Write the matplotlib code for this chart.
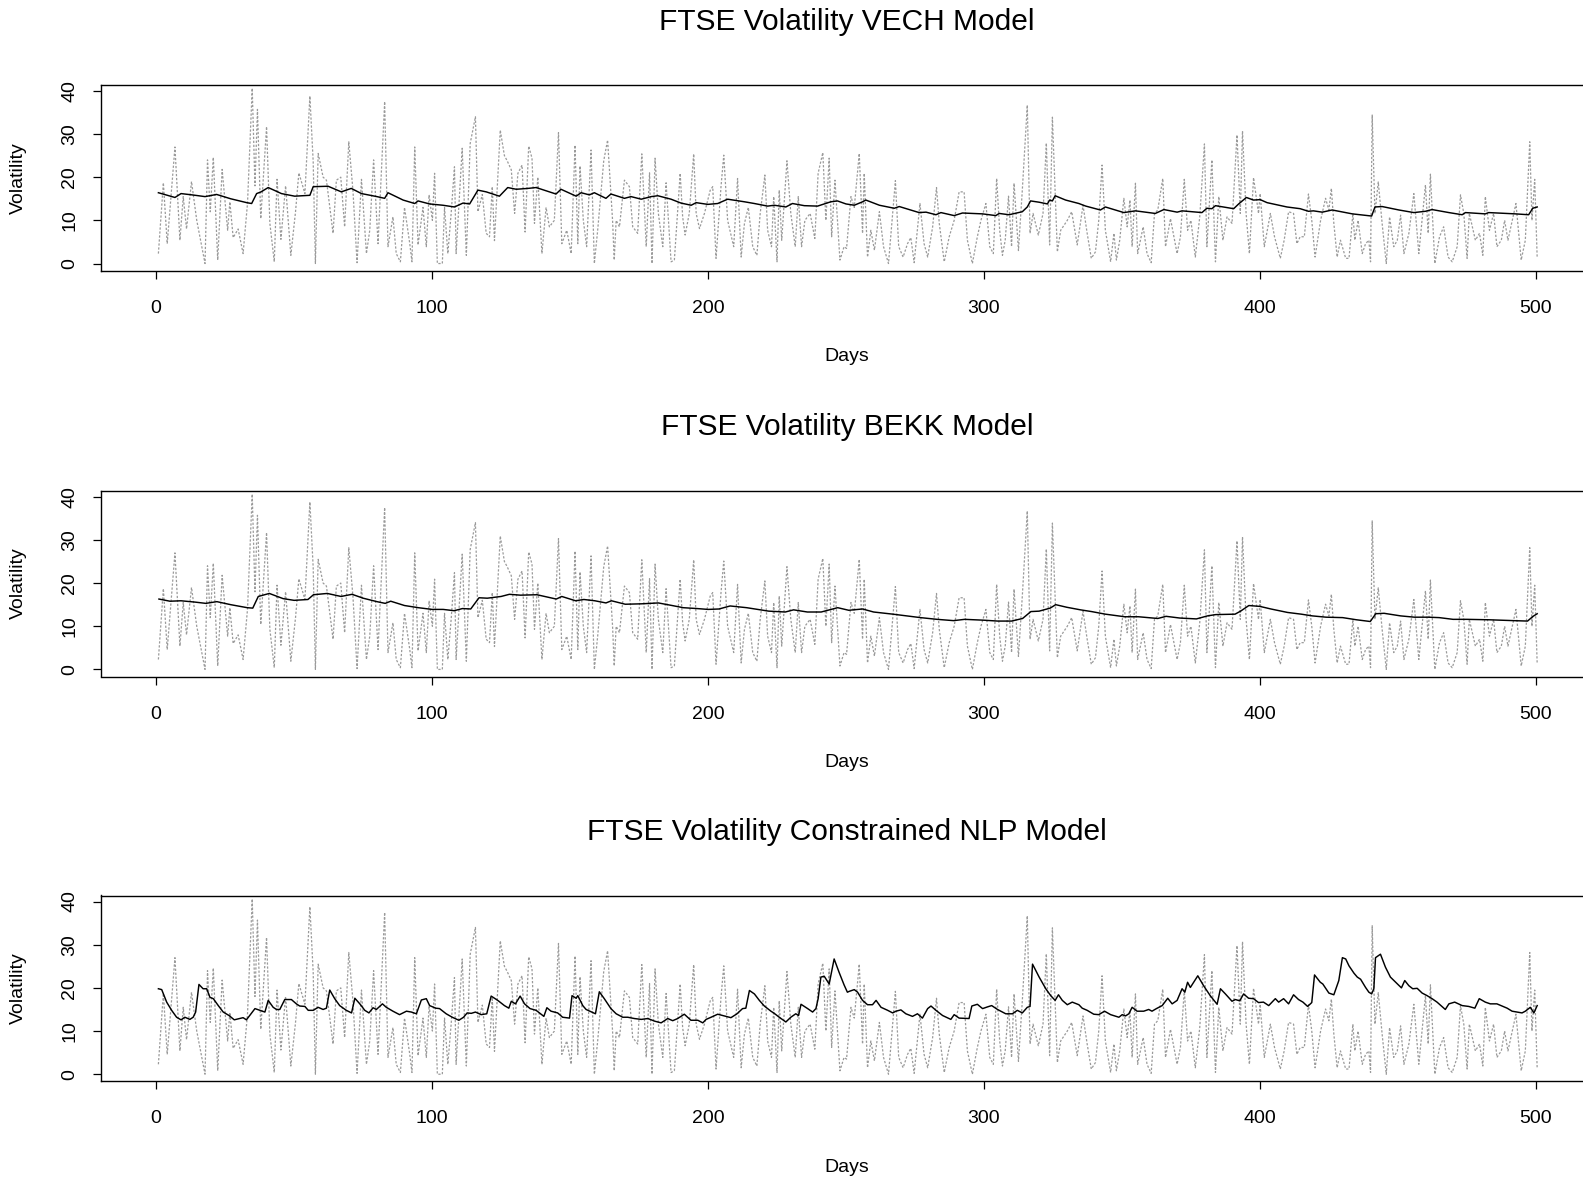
import matplotlib
matplotlib.use("Agg")
import matplotlib.pyplot as plt

plt.rcParams['font.family'] = ['Liberation Sans', 'DejaVu Sans']

# ---------------- data ----------------
titles = ["FTSE Volatility VECH Model", "FTSE Volatility BEKK Model",
          "FTSE Volatility Constrained NLP Model"]
x_label = "Days"
y_label = "Volatility"
x_ticks = [0, 100, 200, 300, 400, 500]
y_ticks = [0, 10, 20, 30, 40]

# observed (realised) volatility - dotted grey series, same in all panels
obs_days = [0.8, 2.6, 4.0, 6.8, 8.6, 9.8, 11.0, 12.8, 14.7, 17.7, 18.6, 19.6, 20.7, 22.3, 23.9,
            25.9, 26.7, 27.9, 29.7, 31.5, 33.1, 34.8, 35.8, 36.7, 37.9, 40.0, 41.2, 42.8, 43.8,
            45.2, 46.9, 48.8, 50.5, 51.7, 53.9, 55.7, 56.9, 57.7, 58.7, 60.5, 61.7, 64.1, 65.3,
            66.9, 68.3, 69.8, 71.3, 72.8, 74.4, 76.2, 77.4, 78.8, 80.4, 82.8, 84.0, 85.8, 87.0,
            88.5, 90.0, 91.9, 92.7, 93.7, 94.9, 96.7, 97.9, 98.9, 100.1, 100.9, 101.9, 103.7,
            104.5, 105.7, 106.9, 108.1, 108.7, 110.9, 112.4, 113.8, 115.7, 116.6, 118.2, 119.6,
            120.8, 121.8, 122.6, 124.7, 126.2, 127.2, 128.7, 129.9, 131.1, 132.6, 133.7, 135.0,
            136.2, 137.1, 138.3, 139.8, 141.3, 142.5, 144.3, 145.8, 147.0, 148.8, 150.4, 151.8,
            152.8, 153.6, 154.8, 156.0, 157.6, 158.8, 160.0, 162.2, 163.6, 165.4, 166.0, 166.7,
            167.9, 169.7, 171.5, 172.7, 174.5, 176.0, 177.6, 178.8, 179.7, 180.8, 182.0, 183.6,
            184.8, 186.6, 187.8, 189.9, 190.8, 191.7, 193.2, 194.8, 195.7, 196.9, 198.7, 200.8,
            201.7, 202.9, 204.7, 205.7, 207.1, 209.3, 210.7, 212.0, 213.2, 214.6, 216.2, 217.7,
            218.9, 220.6, 221.6, 223.0, 223.8, 225.0, 225.8, 226.7, 228.6, 230.0, 231.6, 232.7,
            233.9, 235.1, 237.0, 238.7, 239.9, 241.6, 242.7, 243.9, 244.8, 246.0, 247.8, 249.3,
            250.2, 251.8, 253.0, 254.8, 256.0, 256.6, 257.8, 259.0, 260.3, 262.1, 263.6, 265.4,
            266.9, 267.9, 269.1, 270.7, 272.3, 273.5, 274.7, 276.8, 278.3, 279.6, 281.4, 282.8,
            283.8, 285.6, 287.4, 289.2, 291.0, 292.8, 294.0, 295.8, 297.6, 298.9, 300.7, 302.1,
            303.4, 304.6, 305.7, 306.7, 307.7, 308.9, 310.0, 310.9, 312.5, 313.9, 315.7, 316.7,
            317.8, 319.7, 321.4, 322.6, 323.8, 324.8, 326.6, 327.8, 330.2, 331.8, 333.8, 335.9,
            337.4, 338.9, 340.4, 341.6, 342.8, 344.0, 345.9, 347.1, 348.0, 349.2, 350.7, 351.9,
            352.9, 353.7, 354.9, 355.7, 357.7, 359.1, 360.6, 361.8, 363.0, 364.8, 365.8, 367.6,
            370.0, 371.2, 372.6, 373.8, 375.0, 376.6, 378.2, 379.9, 380.8, 382.6, 383.9, 385.1,
            386.6, 388.1, 389.9, 391.7, 392.9, 393.7, 395.0, 396.2, 397.7, 399.5, 400.1, 401.6,
            403.8, 405.3, 407.4, 408.8, 410.4, 412.2, 413.4, 414.6, 416.1, 417.6, 418.8, 420.0,
            422.0, 423.8, 425.0, 425.9, 426.8, 428.0, 429.2, 431.1, 432.3, 433.7, 434.4, 435.6,
            437.1, 438.3, 439.5, 440.1, 440.7, 441.7, 442.9, 444.3, 445.8, 447.0, 448.5, 449.8,
            451.0, 452.2, 454.0, 455.8, 457.6, 460.0, 461.0, 461.8, 463.4, 465.1, 466.6, 468.2,
            469.7, 471.5, 472.7, 473.9, 475.1, 475.9, 478.1, 479.6, 480.8, 481.7, 483.2, 484.7,
            485.9, 487.5, 488.7, 489.9, 492.8, 494.7, 496.2, 497.8, 498.6, 499.6, 500.5]
obs_vol = [2.3, 18.7, 4.6, 27.0, 5.4, 15.5, 8.0, 19.0, 10.0, 0.0, 24.0, 12.0, 24.6, 0.8, 21.8,
           7.7, 14.3, 6.0, 8.0, 2.3, 14.0, 40.6, 18.0, 35.7, 10.4, 31.7, 9.3, 0.4, 19.5,
           5.6, 18.0, 1.9, 12.0, 21.0, 16.2, 38.8, 23.6, 0.0, 25.5, 20.0, 19.3, 7.0, 19.3,
           20.0, 8.5, 28.2, 17.0, 0.2, 19.5, 2.3, 7.7, 24.0, 4.6, 37.5, 3.9, 10.8, 2.3,
           0.4, 13.0, 4.6, 0.4, 27.0, 4.3, 13.0, 3.9, 15.9, 10.0, 20.9, 0.0, 0.0,
           13.0, 2.3, 11.6, 22.4, 2.3, 26.7, 1.9, 27.8, 34.0, 12.0, 16.0, 7.0,
           6.2, 17.8, 5.3, 30.9, 25.0, 23.8, 21.7, 11.6, 20.9, 22.8, 7.3, 27.2,
           24.4, 9.3, 20.0, 2.3, 13.0, 8.5, 10.0, 30.3, 4.6, 7.7, 2.3, 27.4,
           4.6, 22.6, 10.0, 3.9, 26.3, 0.0, 7.7, 23.8, 28.6, 10.0, 0.8, 10.0,
           8.5, 19.3, 17.8, 8.5, 7.0, 25.4, 3.9, 21.0, 0.0, 24.4, 11.6, 3.9,
           18.7, 0.4, 0.8, 20.9, 10.8, 6.6, 11.6, 25.4, 11.6, 8.1, 11.6, 17.0,
           17.8, 1.2, 17.8, 25.1, 10.0, 3.9, 19.7, 1.5, 9.3, 13.0, 3.9, 1.9,
           11.6, 20.5, 7.7, 3.9, 15.5, 0.4, 17.0, 5.4, 23.8, 11.6, 3.9, 15.5,
           3.9, 10.0, 11.6, 5.8, 20.9, 25.7, 10.0, 24.4, 6.2, 19.3, 0.8, 3.9,
           3.5, 15.5, 13.0, 25.5, 7.0, 20.9, 1.5, 7.7, 3.1, 12.0, 3.9, 0.0,
           11.6, 19.2, 3.9, 1.5, 4.6, 6.0, 0.2, 13.9, 4.6, 1.5, 8.5, 17.6,
           9.3, 0.4, 6.2, 10.0, 16.6, 16.6, 5.4, 0.0, 6.2, 10.0, 13.9, 3.9,
           2.3, 19.7, 7.7, 1.9, 5.4, 15.6, 3.9, 18.6, 3.0, 17.0, 36.7, 7.0,
           11.6, 6.6, 11.6, 27.9, 4.3, 33.9, 2.7, 7.7, 10.0, 12.0, 4.3, 13.5,
           7.0, 1.2, 2.7, 10.0, 22.8, 7.7, 0.4, 7.0, 0.8, 5.4, 15.1, 8.5,
           14.7, 3.9, 18.6, 2.3, 8.5, 2.3, 0.2, 11.6, 12.4, 19.7, 3.9, 10.4,
           2.3, 6.2, 19.5, 7.7, 10.0, 1.5, 10.8, 27.7, 3.9, 24.0, 0.4, 15.5,
           5.4, 10.8, 9.3, 29.8, 11.6, 30.7, 11.6, 2.3, 19.9, 11.6, 16.2, 3.9,
           11.6, 6.2, 1.2, 5.4, 12.0, 11.6, 4.6, 6.2, 6.2, 16.1, 10.0, 1.5,
           10.0, 15.1, 12.4, 17.4, 9.3, 1.5, 5.4, 1.2, 1.2, 11.6, 5.4, 10.0,
           2.3, 4.6, 5.4, 0.4, 34.4, 11.6, 18.9, 9.3, 0.0, 10.8, 3.9, 5.4,
           11.2, 2.3, 7.0, 16.2, 2.3, 18.2, 7.0, 20.7, 0.0, 6.2, 8.5, 1.5,
           0.4, 3.9, 15.9, 11.6, 1.2, 11.6, 5.4, 7.0, 1.9, 15.5, 7.7, 11.6,
           3.9, 5.4, 10.0, 5.4, 13.9, 0.8, 5.4, 28.2, 10.0, 19.5, 1.2]

# VECH model forecast
vech_days = [0.8, 3, 6.8, 9, 13, 17.7, 21.9, 27, 32.8, 34.6, 36.4, 38, 40.6, 45.4, 50.2, 55.7,
             56.9, 62.3, 67.1, 70.7, 74.4, 80, 82.8, 84, 89.5, 93.7, 94.9, 99.1, 103.9, 108.1,
             111.2, 113.6, 116.6, 119.6, 124.4, 127.4, 130.5, 134.7, 137.7, 144.9, 146.7, 152.2,
             154, 157, 158.8, 163, 164.8, 169.7, 172.1, 175.8, 179.4, 181.8, 186.6, 190.2, 193.9,
             195.7, 199.9, 203.5, 207.1, 213.2, 216.8, 221.6, 224, 228.2, 230.6, 234.9, 239.7,
             244.5, 246.9, 250, 253, 256, 257.2, 262.1, 267.5, 269.3, 276.5, 279, 282.6, 284.4,
             289.2, 292.2, 299.5, 304.3, 305.5, 309.1, 313.9, 315.7, 316.9, 320, 323, 323.8,
             324.8, 325.8, 329.6, 334.4, 336.9, 342.2, 344, 350.7, 354.9, 362.1, 365.2, 370,
             371.8, 379, 380.8, 382.6, 383.9, 390.5, 392.3, 395.1, 397.7, 400.1, 402.6, 409.8,
             414.6, 417.6, 419.4, 422.6, 426.2, 433.5, 440.5, 441.7, 444.3, 450.4, 455.8, 460,
             462.4, 468.5, 473.3, 474.5, 481.7, 482.9, 492.6, 497.4, 498.9, 500.5]
vech_vol = [16.4, 16.0, 15.3, 16.2, 15.9, 15.5, 16.0, 15.0, 14.1, 13.9, 16.2, 16.6, 17.6, 16.2,
            15.6, 15.8, 17.8, 17.9, 16.6, 17.4, 16.2, 15.5, 15.1, 16.4, 14.7, 13.9, 14.5, 13.8,
            13.5, 13.1, 14.0, 13.8, 17.0, 16.6, 15.6, 17.6, 17.2, 17.4, 17.6, 16.1, 17.2, 15.6,
            16.4, 15.9, 16.4, 15.1, 16.1, 15.1, 15.5, 14.9, 15.5, 15.7, 14.9, 14.0, 13.5,
            14.1, 13.7, 13.9, 14.9, 14.3, 13.9, 13.3, 13.5, 13.1, 13.9, 13.4, 13.3,
            14.3, 14.5, 13.8, 13.5, 14.3, 14.7, 13.5, 12.8, 13.2, 11.8, 11.9, 11.3, 11.8,
            11.1, 11.7, 11.5, 11.1, 11.6, 11.3, 12.0, 13.1, 14.5, 14.2, 13.8, 14.7,
            14.5, 15.7, 14.7, 13.9, 13.3, 12.4, 13.1, 11.8, 12.2, 11.6, 12.5, 11.9,
            12.2, 11.8, 12.8, 12.7, 13.4, 12.7, 13.8, 15.3, 14.7, 14.8, 14.1, 13.1,
            12.7, 12.1, 12.2, 11.9, 12.4, 11.5, 11.0, 13.1, 13.2, 12.4, 11.8, 12.1,
            12.5, 11.8, 11.3, 11.8, 11.5, 11.8, 11.5, 11.3, 12.8, 13.1]

# BEKK model forecast
bekk_days = [1, 5, 9, 14, 18, 22, 27, 33, 35, 37, 41, 46, 50, 55, 57, 62, 67, 71, 75, 80, 83,
             85, 90, 95, 100, 104, 108, 111, 114, 117, 120, 125, 128, 132, 138, 145, 147, 152,
             155, 159, 163, 165, 170, 176, 182, 187, 191, 196, 200, 204, 208, 214, 218, 222,
             228, 231, 236, 241, 247, 251, 256, 260, 267, 272, 277, 283, 289, 293, 300, 305,
             310, 314, 317, 320, 324, 326, 330, 335, 339, 344, 351, 356, 363, 366, 371, 377,
             381, 384, 391, 393, 396, 400, 404, 410, 415, 419, 424, 430, 435, 440, 442, 445,
             451, 456, 461, 465, 470, 475, 483, 492, 497, 499, 500.5]
bekk_vol = [16.3, 15.8, 15.9, 15.6, 15.3, 15.7, 15.0, 14.3, 14.2, 16.9, 17.6, 16.4, 16.0, 16.2,
            17.3, 17.6, 16.9, 17.4, 16.5, 15.7, 15.3, 15.8, 14.8, 14.3, 13.9, 13.9, 13.6, 14.1,
            14.0, 16.6, 16.5, 16.9, 17.4, 17.2, 17.3, 16.3, 16.9, 15.9, 16.2, 15.9, 15.4, 15.9,
            15.1, 15.2, 15.4, 14.8, 14.3, 14.1, 13.9, 14.0, 14.7, 14.3, 13.9, 13.5, 13.3, 13.8,
            13.3, 13.3, 14.3, 13.7, 14.0, 13.3, 12.8, 12.4, 12.0, 11.6, 11.3, 11.6, 11.4, 11.2,
            11.2, 11.8, 13.4, 13.5, 14.2, 15.0, 14.4, 13.8, 13.4, 12.8, 12.2, 12.2, 11.8, 12.3,
            11.9, 11.7, 12.4, 12.7, 12.8, 13.5, 14.8, 14.6, 14.0, 13.2, 12.8, 12.4, 12.1, 12.0,
            11.5, 11.1, 12.9, 13.0, 12.4, 12.1, 12.1, 12.0, 11.6, 11.6, 11.5, 11.3, 11.2, 12.3,
            12.9]

# Constrained NLP model forecast
nlp_days = [0.8, 2, 3.8, 5.6, 7.4, 9, 10.4, 12.2, 13.4, 14.3, 15.5, 17, 18.3, 19.5, 20.7, 22.5,
            24.3, 26.4, 28.3, 30.3, 31.5, 32.7, 33.9, 35.8, 37.6, 39.4, 40.6, 42.4, 43.6, 44.8,
            46.6, 49, 50.8, 52, 53.9, 55.1, 56.9, 58.7, 60.5, 61.7, 62.9, 64.7, 66.5, 68.9,
            70.8, 72, 73.8, 75.6, 77.1, 78.6, 79.8, 82, 83.4, 85.8, 88.2, 90.7, 92.5, 94.3,
            96.1, 97.9, 99.1, 101.3, 102.7, 105.1, 107.3, 109.7, 111.4, 112.7, 114.2, 115.7,
            117.8, 119.8, 121.4, 123.8, 126.2, 127.8, 128.7, 130.2, 131.9, 133.5, 135.5, 137.7,
            140.5, 141.6, 143.1, 145.5, 147.3, 149.8, 150.7, 152.2, 152.8, 154.6, 155.8, 159.2,
            160.6, 162.4, 164.8, 166.7, 169.1, 170.9, 173.3, 175.8, 178.2, 180.6, 183, 185.4,
            187.2, 189, 191.4, 193.8, 196.3, 198.1, 199.3, 201.1, 203.5, 205.9, 208.3, 210.5,
            212.5, 213.7, 215, 216.8, 218.6, 220.4, 222.8, 224, 225.8, 228.2, 230, 231.8, 232.8,
            233.7, 236.1, 237.9, 239.1, 239.9, 240.9, 242.1, 243.9, 245.7, 247.5, 249.3, 250.5,
            251.2, 253, 254.2, 256, 257.8, 259.6, 260.9, 262.7, 265.1, 266.9, 268.1, 269.9,
            271.7, 274.1, 275.9, 277.7, 279.6, 280.8, 282.6, 285, 288, 289.2, 291, 294.6, 295.6,
            297.6, 299.5, 301.3, 302.8, 304.9, 307.9, 310.3, 312.1, 313.9, 315.7, 316.7, 317.6,
            320, 322.4, 324.2, 325.8, 327, 328.4, 330.2, 332, 334.4, 335.6, 337.4, 339.8, 341.6,
            343.7, 345.9, 348.9, 350.1, 351.3, 352.5, 353.7, 355.5, 357.9, 359.7, 360.9, 362.5,
            364.6, 366.6, 368.2, 370, 371.8, 372.8, 373.8, 374.8, 377.5, 379.6, 382, 384.5,
            385.7, 387.5, 389.9, 391.1, 392.7, 394.1, 395.9, 397.7, 399.5, 401.3, 403.2, 405.6,
            406.8, 408.6, 410.4, 412.2, 414, 415.6, 417.3, 418.8, 419.8, 421.9, 422.8, 425,
            426.8, 428.6, 429.9, 431.1, 432.3, 434.1, 435.3, 436.5, 438.3, 439.5, 440.5, 441.3,
            441.9, 443.7, 445.5, 447.3, 449.2, 451.3, 452.5, 454, 455.4, 457, 458.8, 460.6,
            462.4, 464.2, 467.2, 468.5, 470.6, 473.3, 475.7, 477.9, 479.5, 481.7, 483.5, 485.9,
            487.8, 489.6, 491.4, 493.2, 495, 496.2, 498, 499.3, 500.5]
nlp_vol = [19.8, 19.6, 16.7, 14.8, 13.2, 12.6, 13.2, 12.7, 13.2, 14.4, 20.8, 19.8, 19.8, 17.8,
           17.5, 15.9, 14.4, 13.6, 12.6, 12.9, 13.1, 12.6, 13.6, 15.2, 14.8, 14.4, 17.1, 15.5,
           15.0, 15.0, 17.3, 17.3, 16.3, 15.8, 15.7, 14.8, 14.8, 15.5, 15.0, 15.3, 19.5, 17.5,
           15.9, 14.8, 14.2, 17.6, 16.3, 14.8, 14.2, 15.4, 15.0, 16.3, 15.5, 14.6, 13.8, 14.6,
           14.4, 14.0, 17.2, 17.5, 15.9, 15.3, 15.2, 14.0, 13.2, 12.5, 13.2, 14.2, 14.1, 14.4,
           13.8, 14.0, 18.1, 17.1, 15.9, 15.3, 16.9, 16.3, 18.1, 16.3, 15.2, 14.8, 13.4, 15.4,
           14.6, 14.2, 13.2, 13.0, 18.2, 17.6, 18.2, 15.9, 15.0, 14.0, 19.1, 17.5, 15.2, 14.0,
           13.2, 13.2, 12.9, 12.7, 12.9, 12.3, 11.9, 12.9, 12.4, 12.9, 13.9, 12.5, 12.5, 11.9,
           12.7, 13.2, 13.9, 13.5, 13.1, 14.0, 15.2, 15.3, 19.4, 18.6, 17.1, 15.8, 14.6, 14.1,
           13.2, 12.1, 13.2, 14.0, 13.6, 16.2, 15.2, 14.4, 15.2, 17.5, 22.5, 22.7, 20.9, 26.7,
           23.6, 20.7, 19.0, 19.2, 19.6, 19.0, 17.1, 16.1, 16.1, 17.1, 15.5, 14.8, 14.2, 14.6,
           14.9, 14.0, 13.4, 14.0, 13.0, 15.2, 15.8, 14.8, 13.6, 12.7, 13.8, 13.0, 12.9, 15.8,
           16.2, 15.2, 15.6, 15.9, 15.0, 14.0, 14.0, 14.8, 14.2, 15.5, 15.7, 25.5, 22.5, 19.8,
           18.2, 17.1, 18.4, 17.1, 16.1, 16.7, 16.1, 15.3, 14.8, 13.9, 13.8, 14.6, 13.8, 13.2,
           13.8, 13.5, 14.0, 15.5, 14.6, 14.6, 15.0, 14.6, 15.2, 15.9, 17.6, 16.3, 17.1, 19.8,
           19.0, 21.3, 20.1, 22.8, 20.5, 18.2, 16.2, 19.8, 18.6, 16.9, 17.3, 17.0, 18.6, 17.6,
           17.5, 16.6, 16.7, 15.9, 17.5, 16.7, 17.5, 16.3, 18.4, 17.3, 16.7, 15.7, 16.6, 23.0,
           21.3, 20.9, 18.8, 18.4, 21.7, 27.0, 26.7, 25.1, 23.4, 22.5, 22.0, 20.1, 19.0, 18.6,
           19.8, 27.0, 27.8, 24.8, 22.5, 21.3, 20.0, 21.7, 20.5, 19.8, 19.9, 18.8, 18.2, 17.5,
           16.7, 15.0, 16.3, 16.7, 15.9, 15.7, 15.3, 17.5, 16.7, 16.3, 16.3, 15.8, 15.3, 14.6,
           14.4, 14.2, 14.6, 15.5, 14.2, 15.9]

model_days = [vech_days, bekk_days, nlp_days]
model_vols = [vech_vol, bekk_vol, nlp_vol]

# ---------------- figure ----------------
W, H = 1583, 1178
fig = plt.figure(figsize=(W / 100, H / 100), dpi=100)

ax_left = 101 / W
ax_width = (1591 - 101) / W
ax_tops = [84.8, 490.7, 895.5]
ax_h = 185.8
title_y = [22.0, 427.0, 832.0]
days_y = [356.5, 762.3, 1167.0]

for i in range(3):
    bottom = 1 - (ax_tops[i] + ax_h) / H
    ax = fig.add_axes([ax_left, bottom, ax_width, ax_h / H])
    ax.plot(obs_days, obs_vol, color='#9a9a9a', lw=0.9, linestyle=(0, (1.8, 1.4)))
    ax.plot(model_days[i], model_vols[i], color='black', lw=1.05)
    ax.set_xlim(-20, 520)
    ax.set_ylim(-1.64, 41.4)
    ax.set_xticks(x_ticks)
    ax.set_yticks(y_ticks)
    ax.set_yticklabels([str(v) for v in y_ticks], rotation=90, va='center')
    ax.tick_params(axis='both', direction='out', length=5.5, width=0.9,
                   labelsize=14, color='black')
    ax.tick_params(axis='x', pad=15.5)
    ax.tick_params(axis='y', pad=11)
    for sp in ax.spines.values():
        sp.set_linewidth(1.0)
        sp.set_color('black')
    fig.text(847 / W, 1 - title_y[i] / H, titles[i], ha='center', va='center', fontsize=21.5)
    fig.text(847 / W, 1 - days_y[i] / H, x_label, ha='center', va='center', fontsize=14)
    fig.text(18.2 / W, 1 - (ax_tops[i] + ax_h / 2) / H, y_label, ha='center', va='center',
             rotation=90, fontsize=14)

fig.savefig("out.png", dpi=100, facecolor='white')
